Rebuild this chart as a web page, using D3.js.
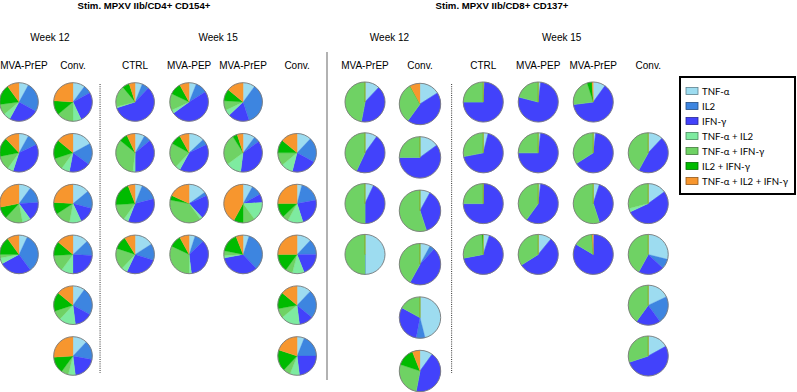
<!DOCTYPE html>
<html>
<head>
<meta charset="utf-8">
<script src="https://cdn.jsdelivr.net/npm/d3@7"></script>
<style>
  body { margin: 0; background: #fff; }
  .title { font-family: "Liberation Sans", Arial, sans-serif; font-weight: bold; font-size: 9.6px; }
  .week, .group { font-family: "Liberation Sans", Arial, sans-serif; font-size: 10px; }
  .legend text { font-family: Lato, "Open Sans", sans-serif; font-size: 9.6px; }
</style>
</head>
<body>
<div id="chart"></div>
<script>
/* Subsets, in the order they go round each pie (clockwise from 12 o'clock) */
const subsets = ["TNF-α", "IL2", "IFN-γ", "TNF-α + IL2", "TNF-α + IFN-γ", "IL2 + IFN-γ", "TNF-α + IL2 + IFN-γ"];
const colours = ["#9ddcf0", "#3d85e0", "#4242fb", "#7eeba0", "#6fd264", "#00bb00", "#f7962e"];

/* CD4+ CD154+ : one array per column, one row per animal (percent of response) */
const cd4Wk12Prep = [
  [8, 25, 25, 6, 9, 17, 10],
  [8, 10, 37, 5, 12, 16, 12],
  [10, 14, 16, 7, 15, 10, 28],
  [7, 33, 27, 5, 3, 15, 10]
];
const cd4Wk12Conv = [
  [10, 7, 26, 7, 14, 12, 24],
  [17, 18, 18, 7, 10, 16, 14],
  [14, 15, 14, 10, 13, 10, 24],
  [13, 13, 24, 10, 14, 12, 14],
  [10, 23, 15, 14, 8, 16, 14],
  [12, 16, 20, 6, 6, 14, 26]
];
const cd4Wk15Ctrl = [
  [6, 6, 58, 1, 18, 6, 5],
  [8, 6, 36, 2, 34, 7, 7],
  [6, 15, 35, 4, 14, 20, 6],
  [16, 14, 27, 5, 18, 11, 9]
];
const cd4Wk15Pep = [
  [6, 10, 49, 3, 14, 10, 8],
  [13, 5, 40, 4, 21, 9, 8],
  [15, 3, 20, 2, 38, 4, 18],
  [5, 8, 35, 2, 32, 10, 8]
];
const cd4Wk15Prep = [
  [10, 35, 18, 5, 8, 10, 14],
  [10, 5, 37, 13, 26, 4, 5],
  [8, 9, 7, 16, 10, 8, 42],
  [5, 33, 34, 2, 4, 16, 6]
];
const cd4Wk15Conv = [
  [12, 21, 21, 10, 11, 11, 14],
  [4, 18, 23, 13, 5, 12, 25],
  [12, 13, 19, 10, 6, 15, 25],
  [12, 24, 12, 16, 8, 14, 14],
  [6, 19, 23, 8, 6, 18, 20]
];

/* CD8+ CD137+ */
const cd8Wk12Prep = [
  [12, 0, 41, 0, 47, 0, 0],
  [10, 0, 47, 0, 43, 0, 0],
  [7, 0, 43, 0, 50, 0, 0],
  [50, 0, 0, 0, 50, 0, 0]
];
const cd8Wk12Conv = [
  [16, 0, 44, 0, 32, 0, 8],
  [15, 0, 60, 0, 25, 0, 0],
  [8, 0, 37, 0, 55, 0, 0],
  [8, 4, 46, 0, 42, 0, 0],
  [46, 7, 30, 0, 17, 0, 0],
  [10, 0, 43, 0, 27, 14, 6]
];
const cd8Wk15Ctrl = [
  [1, 0, 74, 0, 25, 0, 0],
  [4, 0, 68, 0, 28, 0, 0],
  [0.5, 0, 74.5, 0, 25, 0, 0],
  [5, 0, 67, 0, 27, 1, 0]
];
const cd8Wk15Pep = [
  [2, 0, 77, 0, 21, 0, 0],
  [2, 0, 73, 0, 25, 0, 0],
  [2, 0, 58, 0, 40, 0, 0],
  [11, 0, 55, 0, 34, 0, 0]
];
const cd8Wk15Prep = [
  [10, 0, 63, 0, 22, 4, 1],
  [2, 0, 64, 0, 34, 0, 0],
  [5, 0, 40, 0, 55, 0, 0],
  [0.5, 0, 83, 0, 15.5, 0, 1]
];
const cd8Wk15Conv = [
  [12, 0, 46, 0, 42, 0, 0],
  [15, 0, 53, 3, 29, 0, 0],
  [29, 8, 21, 0, 42, 0, 0],
  [18, 22, 20, 0, 40, 0, 0],
  [17, 0, 53, 0, 30, 0, 0]
];

/* Labels */
const panelTitles = ["Stim. MPXV IIb/CD4+ CD154+", "Stim. MPXV IIb/CD8+ CD137+"];
const weeks = ["Week 12", "Week 15"];
const groups = ["MVA-PrEP", "Conv.", "CTRL", "MVA-PEP", "MVA-PrEP", "Conv."];

/* columns of each panel: data, label slot, row of its first pie */
const columns = [
  {panel: 0, slot: 0, data: cd4Wk12Prep, first: 0},
  {panel: 0, slot: 1, data: cd4Wk12Conv, first: 0},
  {panel: 0, slot: 2, data: cd4Wk15Ctrl, first: 0},
  {panel: 0, slot: 3, data: cd4Wk15Pep, first: 0},
  {panel: 0, slot: 4, data: cd4Wk15Prep, first: 0},
  {panel: 0, slot: 5, data: cd4Wk15Conv, first: 1},
  {panel: 1, slot: 0, data: cd8Wk12Prep, first: 0},
  {panel: 1, slot: 1, data: cd8Wk12Conv, first: 0, wide: true},
  {panel: 1, slot: 2, data: cd8Wk15Ctrl, first: 0},
  {panel: 1, slot: 3, data: cd8Wk15Pep, first: 0},
  {panel: 1, slot: 4, data: cd8Wk15Prep, first: 0},
  {panel: 1, slot: 5, data: cd8Wk15Conv, first: 1}
];

const width = 797, height = 392;

const svg = d3.select("#chart")
  .append("svg")
  .attr("width", width)
  .attr("height", height);

/* Scales: slot -> x within a panel, row -> y */
const slotPos = [0, 1, 2.15, 3.15, 4.15, 5.15];
const panelLeft = [19, 365];
const panelStep = [54, 55];
const xPos = (panel, slot) => panelLeft[panel] + d3.scaleLinear().domain([0, 1]).range([0, panelStep[panel]])(slotPos[slot]);
const yRow = d3.scaleLinear().domain([0, 5]).range([102, 356]);
const yRowWide = d3.scaleLinear().domain([0, 5]).range([104, 371]);

const colour = d3.scaleOrdinal().domain(subsets).range(colours);
const pie = d3.pie().sort(null).value(d => d.v);

/* Titles */
svg.selectAll(".title")
  .data(panelTitles)
  .join("text")
  .attr("class", "title")
  .attr("x", (d, i) => [144, 502][i])
  .attr("y", 9)
  .attr("text-anchor", "middle")
  .text(d => d);

/* Week headers */
[0, 1].forEach(p => {
  svg.append("text").attr("class", "week")
    .attr("x", (xPos(p, 0) + xPos(p, 1)) / 2 + (p ? -3 : 4)).attr("y", 41)
    .attr("text-anchor", "middle").text(weeks[0]);
  svg.append("text").attr("class", "week")
    .attr("x", (xPos(p, 2) + xPos(p, 5)) / 2 + (p ? -4 : 2)).attr("y", 41)
    .attr("text-anchor", "middle").text(weeks[1]);
  groups.forEach((g, i) => {
    svg.append("text").attr("class", "group")
      .attr("x", xPos(p, i) + (i === 0 && p === 0 ? 5 : 0)).attr("y", 69)
      .attr("text-anchor", "middle").text(g);
  });
  // dotted separator between week 12 and week 15
  const xs = (xPos(p, 1) + xPos(p, 2)) / 2 + (p ? 0 : -4);
  svg.append("line")
    .attr("x1", xs).attr("x2", xs).attr("y1", 84).attr("y2", 373)
    .attr("stroke", "#333").attr("stroke-width", 1).attr("stroke-dasharray", "1,1.2");
});

/* Solid separator between panels */
svg.append("line")
  .attr("x1", 327).attr("x2", 327).attr("y1", 52).attr("y2", 380)
  .attr("stroke", "#999").attr("stroke-width", 1.5);

/* Pies */
columns.forEach(col => {
  const r = col.panel === 0 ? 19.3 : (col.wide ? 20.7 : 20);
  const arc = d3.arc().innerRadius(0).outerRadius(r);
  col.data.forEach((vals, i) => {
    const row = i + col.first;
    const cx = xPos(col.panel, col.slot);
    const cy = col.wide ? yRowWide(row) : yRow(row);
    const g = svg.append("g").attr("transform", `translate(${cx},${cy})`);
    g.selectAll("path")
      .data(pie(vals.map((v, k) => ({k: subsets[k], v: v}))))
      .join("path")
      .attr("d", arc)
      .attr("fill", d => colour(d.data.k))
      .attr("stroke", d => colour(d.data.k))
      .attr("stroke-width", 0.3);
    g.append("circle")
      .attr("r", r)
      .attr("fill", "none")
      .attr("stroke", "#7a7a7a")
      .attr("stroke-width", 0.9);
  });
});

/* Legend */
const legend = svg.append("g").attr("class", "legend");
legend.append("rect")
  .attr("x", 680).attr("y", 77).attr("width", 115).attr("height", 117)
  .attr("fill", "#fff").attr("stroke", "#000").attr("stroke-width", 2);
const yLeg = d3.scaleLinear().domain([0, 6]).range([91, 181]);
subsets.forEach((s, i) => {
  legend.append("rect")
    .attr("x", 686).attr("y", yLeg(i) - 3.5).attr("width", 12).attr("height", 7)
    .attr("fill", colour(s)).attr("stroke", d3.color(colour(s)).darker(1.5)).attr("stroke-width", 0.8);
  legend.append("text")
    .attr("x", 702).attr("y", yLeg(i) + 3.5).text(s);
});
</script>
</body>
</html>
